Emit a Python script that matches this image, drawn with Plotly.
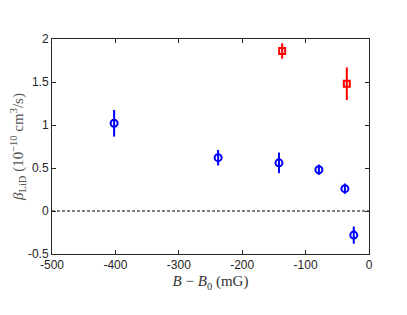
import plotly.graph_objects as go

blue_x = [-402, -238, -142, -79, -38, -24]
blue_y = [1.02, 0.62, 0.56, 0.48, 0.26, -0.28]
blue_err = [0.155, 0.09, 0.12, 0.06, 0.06, 0.10]

red_x = [-137, -35]
red_y = [1.86, 1.48]
red_err = [0.09, 0.19]

x_ticks = [-500, -400, -300, -200, -100, 0]
x_ticktext = ["-500", "-400", "-300", "-200", "-100", "0"]
y_ticks = [-0.5, 0, 0.5, 1, 1.5, 2]
y_ticktext = ["-0.5", "0", "0.5", "1", "1.5", "2"]

fig = go.Figure()
fig.add_trace(go.Scatter(
    x=[-500, 0], y=[0, 0], mode="lines",
    line=dict(color="black", width=1, dash="3px,2px"), showlegend=False, hoverinfo="skip"))
fig.add_trace(go.Scatter(
    x=blue_x, y=blue_y, mode="markers",
    error_y=dict(type="data", array=blue_err, color="#0000ff", thickness=2, width=0),
    marker=dict(symbol="circle-open", size=7, color="#0000ff", line=dict(width=2)),
    showlegend=False))
fig.add_trace(go.Scatter(
    x=red_x, y=red_y, mode="markers",
    error_y=dict(type="data", array=red_err, color="#ff0000", thickness=2, width=0),
    marker=dict(symbol="square-open", size=6, color="#ff0000", line=dict(width=2)),
    showlegend=False))

axis_common = dict(
    showgrid=False, zeroline=False, showline=True, linecolor="#262626", linewidth=1,
    mirror="ticks", ticks="inside", ticklen=4, tickcolor="#262626", automargin=False,
    tickfont=dict(family="Liberation Sans, Arial", size=12, color="#262626"),
)

fig.update_layout(
    width=407, height=315,
    margin=dict(l=44, r=46, t=31, b=69),
    paper_bgcolor="white", plot_bgcolor="white",
    xaxis=dict(range=[-500, 0], tickvals=x_ticks, ticktext=x_ticktext,
               title=dict(text="<i>B</i> − <i>B</i><sub>0</sub> (mG)", standoff=4,
                          font=dict(family="Liberation Serif, Times New Roman", size=15, color="#333333")),
               **axis_common),
    yaxis=dict(range=[-0.5, 2], tickvals=y_ticks, ticktext=y_ticktext,
               title=dict(text="<i>β</i><sub>LiD</sub> (10<sup>−10</sup> cm<sup>3</sup>/s)", standoff=4,
                          font=dict(family="Liberation Serif, Times New Roman", size=15, color="#555555")),
               **axis_common),
)

fig.write_html("out.html")
